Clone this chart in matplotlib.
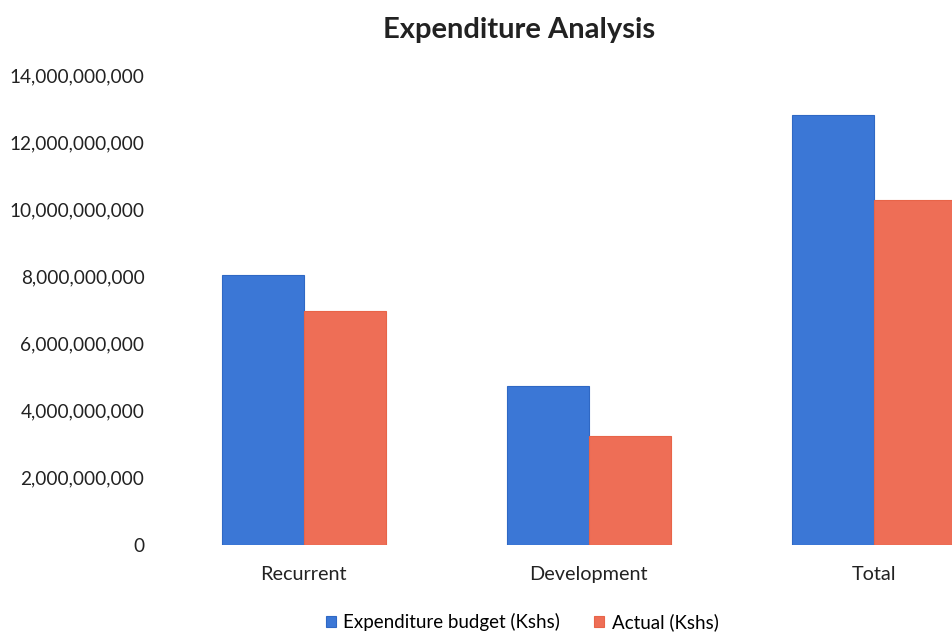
import numpy as np
import matplotlib
matplotlib.use("Agg")
import matplotlib.pyplot as plt
from matplotlib.ticker import FuncFormatter

plt.rcParams['font.family'] = ['Lato', 'DejaVu Sans']

categories = ["Recurrent", "Development", "Total"]
budget = [8.04e9, 4.74e9, 12.80e9]
actual = [6.98e9, 3.26e9, 10.28e9]
series_names = ["Expenditure budget (Kshs)", "Actual (Kshs)"]
y_ticks = [0, 2e9, 4e9, 6e9, 8e9, 10e9, 12e9, 14e9]

blue = "#3b77d6"
orange = "#ee6e56"

fig = plt.figure(figsize=(9.53, 6.32), dpi=100)
ax = fig.add_axes([0.169, 0.1377, 0.831, 0.7436])

x = np.arange(len(categories))
w = 0.288
ax.bar(x - w / 2, budget, w, color=blue, edgecolor="#2f68c4", linewidth=0.8, label=series_names[0])
ax.bar(x + w / 2, actual, w, color=orange, edgecolor="#e86448", linewidth=0.8, label=series_names[1])

ax.set_xlim(-0.5, 2.277)
ax.set_ylim(0, 14e9)
ax.set_yticks(y_ticks)
ax.yaxis.set_major_formatter(FuncFormatter(lambda v, p: f"{int(v):,}"))
ax.set_xticks(x)
ax.set_xticklabels(categories)
ax.tick_params(axis="both", length=0, labelsize=13.7, colors="#222222")
ax.tick_params(axis="y", pad=12)
ax.tick_params(axis="x", labelsize=14.3, pad=15)
for s in ax.spines.values():
    s.set_visible(False)

fig.text(0.545, 0.952, "Expenditure Analysis", ha="center", va="center",
         fontsize=21, fontweight="bold", color="#222222")

fig.legend(loc="center", bbox_to_anchor=(0.548, 0.016), ncol=2, frameon=False,
           fontsize=13.5, handlelength=0.55, handleheight=0.55, handletextpad=0.4,
           columnspacing=1.8)

plt.savefig("out.png", dpi=100)
